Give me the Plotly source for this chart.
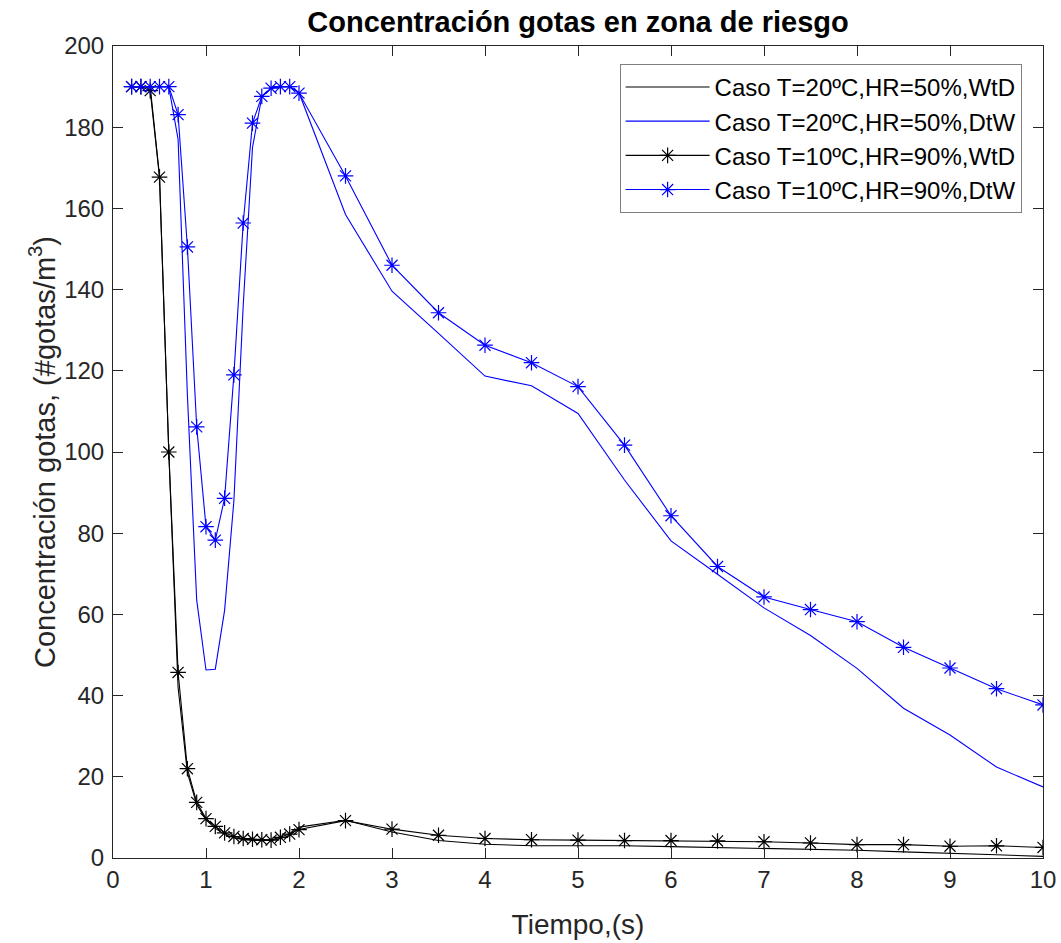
import plotly.graph_objects as go

# Time axis (s)
tiempo = [0.2, 0.3, 0.4, 0.5, 0.6, 0.7, 0.8, 0.9, 1.0, 1.1, 1.2, 1.3, 1.4, 1.5,
          1.6, 1.7, 1.8, 1.9, 2.0, 2.5, 3.0, 3.5, 4.0, 4.5, 5.0, 5.5, 6.0, 6.5,
          7.0, 7.5, 8.0, 8.5, 9.0, 9.5, 10.0]

# Droplet concentration (#gotas/m3) for each case
wtd_20_50 = [190, 190, 190, 168, 100, 42, 21, 13.2, 9.4, 7.3, 5.8, 5.0, 4.5, 4.3,
             4.3, 4.3, 4.8, 5.5, 7.6, 9.3, 6.4, 4.3, 3.4, 3.0, 3.0, 3.0, 2.8, 2.6,
             2.4, 2.2, 1.9, 1.5, 1.2, 0.8, 0.4]
dtw_20_50 = [190, 190, 190, 190, 190, 177, 114, 63.5, 46.3, 46.5, 61, 88, 136, 175,
             187.5, 189.6, 190, 190, 188.5, 158.5, 139.6, 129.2, 118.7, 116.3, 109.5,
             93.1, 78.1, 69.9, 61.6, 54.8, 46.7, 36.9, 30.3, 22.4, 17.5]
wtd_10_90 = [190, 190, 189, 167.7, 100, 45.7, 22, 13.7, 9.7, 7.8, 6.2, 5.3, 4.8, 4.6,
             4.5, 4.4, 5.1, 5.9, 7.0, 9.2, 7.1, 5.6, 4.8, 4.5, 4.4, 4.3, 4.3, 4.2,
             4.0, 3.7, 3.3, 3.3, 2.9, 3.0, 2.6]
dtw_10_90 = [190, 190, 190, 190, 190, 183.1, 150.5, 106.2, 81.6, 78.3, 88.6, 119,
             156.4, 181, 187.6, 189.6, 190, 190, 188.4, 168, 146, 134.3, 126.3, 122,
             116.1, 101.7, 84.3, 71.8, 64.3, 61.2, 58.2, 51.9, 46.8, 41.7, 37.7]

nombres = ["Caso T=20ºC,HR=50%,WtD", "Caso T=20ºC,HR=50%,DtW",
           "Caso T=10ºC,HR=90%,WtD", "Caso T=10ºC,HR=90%,DtW"]

x_ticks = list(range(0, 11))
y_ticks = list(range(0, 201, 20))

NEGRO = "#000000"
AZUL = "#0000FF"
FONT = "Liberation Sans, Arial, sans-serif"
EJE = "#262626"

fig = go.Figure()
fig.add_trace(go.Scatter(x=tiempo, y=wtd_20_50, mode="lines", name=nombres[0],
                         line=dict(color=NEGRO, width=1.1)))
fig.add_trace(go.Scatter(x=tiempo, y=dtw_20_50, mode="lines", name=nombres[1],
                         line=dict(color=AZUL, width=1.1)))
fig.add_trace(go.Scatter(x=tiempo, y=wtd_10_90, mode="lines+markers", name=nombres[2],
                         line=dict(color=NEGRO, width=1.1),
                         marker=dict(symbol="asterisk-open", size=13,
                                     line=dict(color=NEGRO, width=1.2))))
fig.add_trace(go.Scatter(x=tiempo, y=dtw_10_90, mode="lines+markers", name=nombres[3],
                         line=dict(color=AZUL, width=1.1),
                         marker=dict(symbol="asterisk-open", size=13,
                                     line=dict(color=AZUL, width=1.2))))

axis_common = dict(
    showline=True, linecolor=EJE, linewidth=1, mirror="ticks",
    ticks="inside", ticklen=10, tickwidth=1, tickcolor=EJE,
    showgrid=False, zeroline=False, automargin=False,
    tickfont=dict(family=FONT, size=24, color=EJE),
)

fig.update_layout(
    width=1061, height=943,
    margin=dict(l=113, r=18, t=46, b=85),
    paper_bgcolor="white", plot_bgcolor="white",
    title=dict(text="<b>Concentración gotas en zona de riesgo</b>",
               x=(113 + 1043) / 2 / 1061, xanchor="center",
               y=1 - 22 / 943, yanchor="middle",
               font=dict(family=FONT, size=29, color="black")),
    xaxis=dict(range=[0, 10], tickvals=x_ticks,
               title=dict(text="Tiempo,(s)", standoff=22,
                          font=dict(family=FONT, size=28, color=EJE)),
               **axis_common),
    yaxis=dict(range=[0, 200], tickvals=y_ticks, ticklabelstandoff=3,
               title=dict(text="Concentración gotas, (#gotas/m<sup>3</sup>)", standoff=0,
                          font=dict(family=FONT, size=29, color=EJE)),
               **axis_common),
    legend=dict(x=0.977, xanchor="right", y=0.978, yanchor="top",
                bgcolor="white", bordercolor="#7f7f7f", borderwidth=1,
                font=dict(family=FONT, size=24, color="black"),
                itemwidth=84, tracegroupgap=0),
    showlegend=True,
)

fig.write_html("out.html")
